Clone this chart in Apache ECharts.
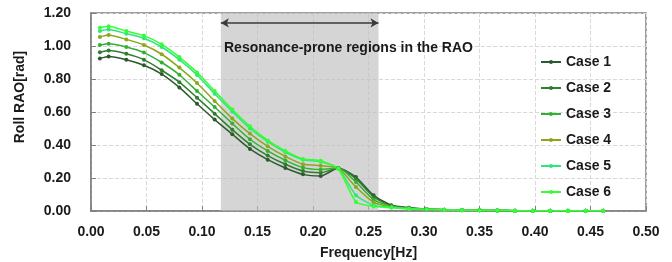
<!DOCTYPE html>
<html>
<head>
<meta charset="utf-8">
<script src="https://cdn.jsdelivr.net/npm/echarts@6/dist/echarts.min.js"></script>
<style>
  html, body { margin: 0; padding: 0; background: #fff; }
  #chart { width: 672px; height: 262px; }
</style>
</head>
<body>
<div id="chart"></div>
<script>
// frequencies [Hz]
var freq = [0.008, 0.0159, 0.0318, 0.0477, 0.0637, 0.0796, 0.0955, 0.1114, 0.1273, 0.1432,
            0.1592, 0.1751, 0.1910, 0.2069, 0.2228, 0.2387, 0.2546, 0.2706, 0.2865, 0.3024,
            0.3183, 0.3342, 0.3501, 0.3661, 0.3820, 0.3979, 0.4138, 0.4297, 0.4456, 0.4615];

var case1 = [0.925, 0.937, 0.917, 0.883, 0.830, 0.749, 0.650, 0.554, 0.465, 0.376,
             0.311, 0.261, 0.222, 0.212, 0.260, 0.206, 0.095, 0.035, 0.020, 0.012,
             0.008, 0.006, 0.004, 0.003, 0.002, 0.002, 0.001, 0.001, 0.001, 0.001];
var case2 = [0.962, 0.972, 0.953, 0.917, 0.853, 0.781, 0.687, 0.590, 0.493, 0.404,
             0.336, 0.283, 0.242, 0.232, 0.260, 0.196, 0.085, 0.032, 0.019, 0.011,
             0.008, 0.005, 0.004, 0.003, 0.002, 0.002, 0.001, 0.001, 0.001, 0.001];
var case3 = [1.006, 1.014, 0.994, 0.960, 0.900, 0.826, 0.727, 0.630, 0.530, 0.435,
             0.364, 0.307, 0.263, 0.252, 0.260, 0.176, 0.069, 0.028, 0.017, 0.011,
             0.007, 0.005, 0.004, 0.003, 0.002, 0.002, 0.001, 0.001, 0.001, 0.001];
var case4 = [1.055, 1.067, 1.040, 1.006, 0.950, 0.869, 0.776, 0.667, 0.560, 0.469,
             0.392, 0.331, 0.283, 0.275, 0.260, 0.145, 0.053, 0.025, 0.015, 0.010,
             0.007, 0.005, 0.004, 0.003, 0.002, 0.002, 0.001, 0.001, 0.001, 0.001];
var case5 = [1.091, 1.100, 1.075, 1.047, 0.994, 0.917, 0.824, 0.711, 0.603, 0.500,
             0.420, 0.356, 0.311, 0.298, 0.258, 0.095, 0.035, 0.022, 0.014, 0.010,
             0.007, 0.005, 0.004, 0.003, 0.002, 0.002, 0.001, 0.001, 0.001, 0.001];
var case6 = [1.111, 1.120, 1.091, 1.063, 1.010, 0.933, 0.840, 0.727, 0.615, 0.513,
             0.428, 0.364, 0.315, 0.305, 0.255, 0.055, 0.028, 0.020, 0.012, 0.009,
             0.006, 0.005, 0.004, 0.003, 0.002, 0.002, 0.001, 0.001, 0.001, 0.001];

var caseNames = ['Case 1', 'Case 2', 'Case 3', 'Case 4', 'Case 5', 'Case 6'];
var caseColors = ['#2d5a2d', '#2f7d2f', '#33b033', '#8da61a', '#2ee67a', '#33ff33'];
var allCases = [case1, case2, case3, case4, case5, case6];

// resonance band and its arrow
var bandRange = [0.117, 0.259];
var arrowLevel = 1.14;
var bandText = 'Resonance-prone regions in the RAO';

var font = 'Liberation Sans';
var textColor = '#1a1a1a';

var myChart = echarts.init(document.getElementById('chart'));

function pairs(ys) {
    return freq.map(function (f, i) { return [f, ys[i]]; });
}

var series = [{
    name: 'band',
    type: 'line',
    data: [],
    z: 1,
    silent: true,
    markArea: {
        silent: true,
        itemStyle: { color: 'rgba(190,190,190,0.65)' },
        data: [[{ xAxis: bandRange[0] }, { xAxis: bandRange[1] }]]
    },
    markLine: {
        silent: true,
        symbol: ['arrow', 'arrow'],
        symbolSize: [7, 8],
        label: { show: false },
        lineStyle: { color: '#3a3a3a', width: 1.5, type: 'solid' },
        data: [[{ coord: [bandRange[0], arrowLevel] }, { coord: [bandRange[1], arrowLevel] }]]
    }
}];

caseNames.forEach(function (name, k) {
    series.push({
        name: name,
        type: 'line',
        data: pairs(allCases[k]),
        smooth: 0.2,
        symbol: 'circle',
        symbolSize: 4,
        z: 3,
        lineStyle: { width: 1.5, color: caseColors[k] },
        itemStyle: { color: caseColors[k] }
    });
});

var option = {
    animation: false,
    backgroundColor: '#fff',
    color: caseColors,
    grid: {
        left: 91, right: 26, top: 13, bottom: 51,
        outerBoundsMode: 'none',
        containLabel: false,
        show: true,
        borderColor: '#7f7f7f',
        borderWidth: 1.5
    },
    legend: {
        data: caseNames,
        orient: 'vertical',
        left: 535,
        top: 50,
        itemWidth: 20,
        itemHeight: 5,
        itemGap: 12,
        itemStyle: { borderWidth: 0 },
        textStyle: { fontFamily: font, fontWeight: 'bold', fontSize: 14, color: textColor, lineHeight: 14 }
    },
    xAxis: {
        type: 'value',
        min: 0,
        max: 0.5,
        interval: 0.05,
        name: 'Frequency[Hz]',
        nameLocation: 'middle',
        nameGap: 35,
        nameTextStyle: { fontFamily: font, fontWeight: 'bold', fontSize: 14, color: textColor },
        axisLine: { lineStyle: { color: '#7f7f7f', width: 1.5 } },
        axisTick: { inside: true, length: 5, lineStyle: { color: '#7f7f7f' } },
        axisLabel: {
            margin: 14,
            fontFamily: font, fontWeight: 'bold', fontSize: 14, color: textColor,
            formatter: function (v) { return v.toFixed(2); }
        },
        splitLine: { lineStyle: { color: '#d9d9d9', type: 'dashed' } }
    },
    yAxis: {
        type: 'value',
        min: 0,
        max: 1.2,
        interval: 0.2,
        axisLine: { show: true, lineStyle: { color: '#7f7f7f', width: 1.5 } },
        axisTick: { show: true, inside: true, length: 5, lineStyle: { color: '#7f7f7f' } },
        axisLabel: {
            margin: 20,
            fontFamily: font, fontWeight: 'bold', fontSize: 14, color: textColor,
            formatter: function (v) { return v.toFixed(2); }
        },
        splitLine: { lineStyle: { color: '#d9d9d9', type: 'dashed' } }
    },
    graphic: [{
        type: 'text',
        left: 224,
        top: 41,
        z: 10,
        style: { text: bandText, fontFamily: font, fontWeight: 'bold', fontSize: 14, fill: textColor }
    }, {
        type: 'text',
        x: 20,
        y: 97,
        rotation: Math.PI / 2,
        style: {
            text: 'Roll RAO[rad]', fontFamily: font, fontWeight: 'bold', fontSize: 14,
            fill: textColor, align: 'center', verticalAlign: 'middle'
        }
    }],
    series: series
};

myChart.setOption(option);
</script>
</body>
</html>
